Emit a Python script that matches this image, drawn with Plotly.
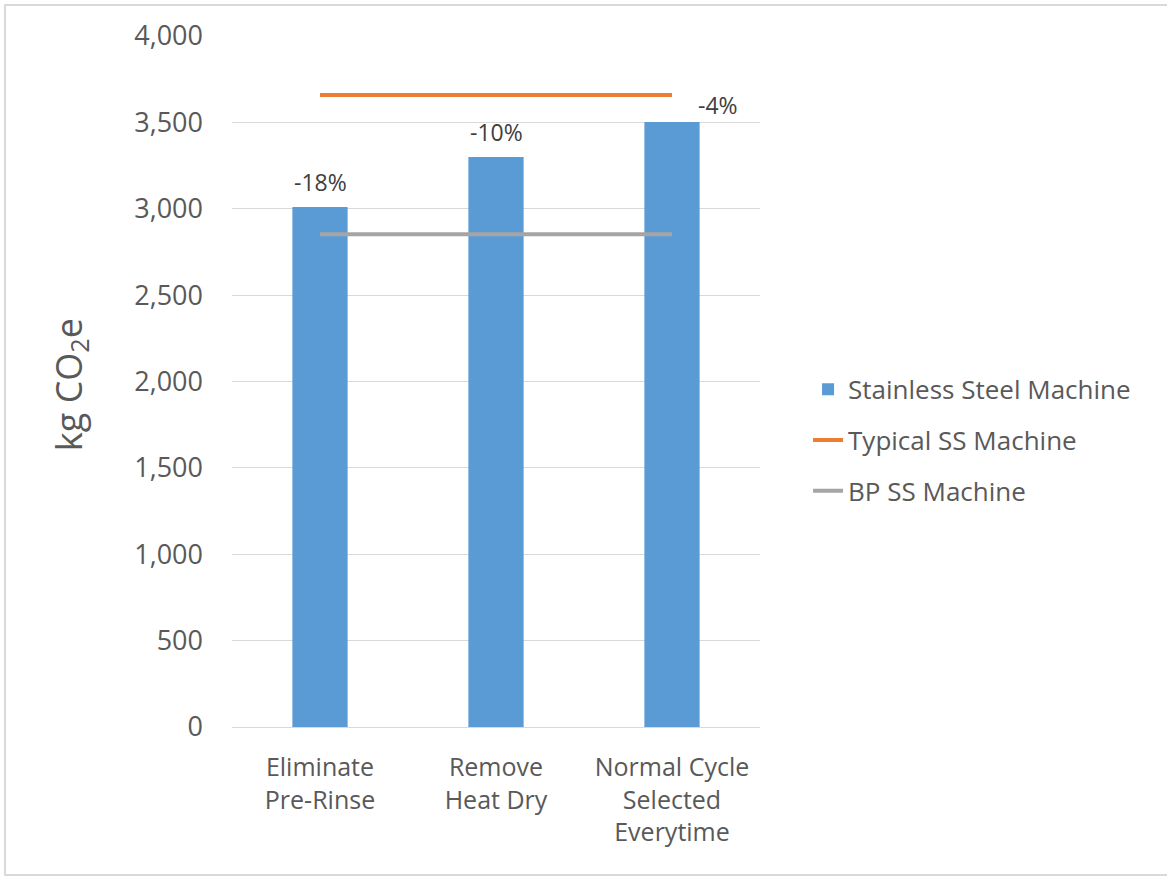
import plotly.graph_objects as go

categories = ["Eliminate<br>Pre-Rinse", "Remove<br>Heat Dry", "Normal Cycle<br>Selected<br>Everytime"]
ss_machine = [3010, 3300, 3502]
typical_ss = [3658, 3658, 3658]
bp_ss = [2852, 2852, 2852]
labels = ["-18%", "-10%", "-4%"]
label_xshift = [0, 0, 46]
label_yshift = [25, 25, 17]

FONT = "Open Sans"
TXT = "#595959"

fig = go.Figure()
fig.add_trace(go.Bar(x=categories, y=ss_machine, name="Stainless Steel Machine",
                     marker=dict(color="#5b9bd5", line=dict(width=0)), width=0.314,
                     legendgroup="a"))
fig.add_trace(go.Scatter(x=categories, y=typical_ss, name="Typical SS Machine", mode="lines",
                         line=dict(color="#ed7d31", width=4), legendgroup="b"))
fig.add_trace(go.Scatter(x=categories, y=bp_ss, name="BP SS Machine", mode="lines",
                         line=dict(color="#a5a5a5", width=4), legendgroup="c"))

for c, v, t, xs, ys in zip(categories, ss_machine, labels, label_xshift, label_yshift):
    fig.add_annotation(x=c, y=v, text=t, showarrow=False, xshift=xs, yshift=ys,
                       font=dict(family=FONT, size=23, color="#404040"))

fig.add_annotation(xref="paper", yref="paper", x=-0.307, y=0.496, text="kg CO<sub>2</sub>e",
                   textangle=-90, showarrow=False, xanchor="center", yanchor="middle",
                   font=dict(family=FONT, size=36, color=TXT))

fig.add_shape(type="rect", xref="paper", yref="paper",
              x0=(5 - 232) / 528, x1=(1175 - 232) / 528,
              y0=(727 - 875) / 691, y1=(727 - 5) / 691,
              line=dict(color="#d9d9d9", width=2), fillcolor="rgba(0,0,0,0)", layer="below")

fig.update_layout(
    width=1167, height=876,
    margin=dict(l=232, r=407, t=36, b=149),
    paper_bgcolor="white", plot_bgcolor="white",
    font=dict(family=FONT, color=TXT),
    showlegend=True,
    legend=dict(x=1.091, y=0.415, xanchor="left", yanchor="middle",
                font=dict(family=FONT, size=26, color=TXT),
                traceorder="grouped", tracegroupgap=14, bgcolor="rgba(0,0,0,0)"),
    bargap=0.686,
)
fig.update_xaxes(type="category", showgrid=False, showline=True, linecolor="#d9d9d9", linewidth=1,
                 tickfont=dict(family=FONT, size=25, color=TXT),
                 ticks="outside", ticklen=18, tickcolor="white")
fig.update_yaxes(range=[0, 4000], dtick=500, tickformat=",", showgrid=True, gridcolor="#d9d9d9",
                 gridwidth=1, zeroline=False, showline=False,
                 tickfont=dict(family=FONT, size=27, color=TXT), ticklabelstandoff=28)

fig.write_html("out.html")
